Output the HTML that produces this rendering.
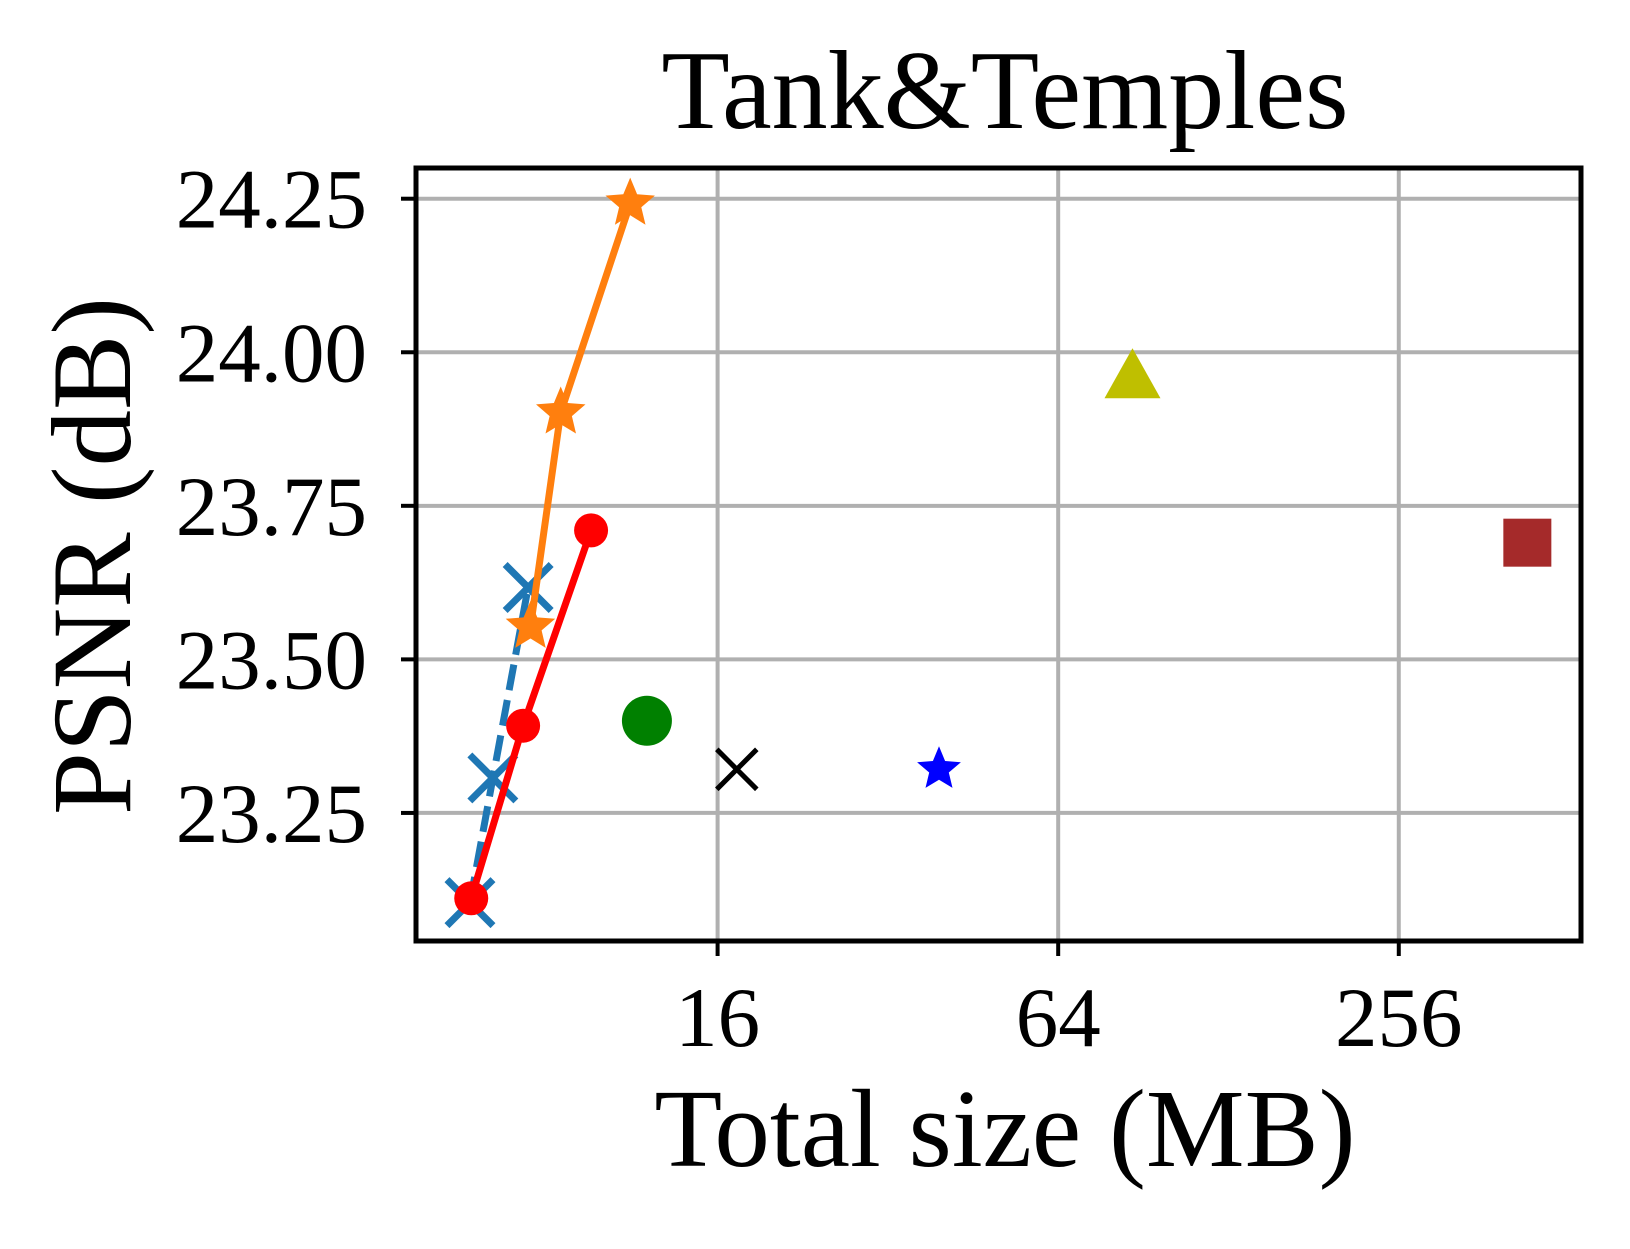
<!DOCTYPE html>
<html><head><meta charset="utf-8"><style>
html,body{margin:0;padding:0;background:#fff}
svg text{font-family:"Liberation Serif",serif;fill:#000}
</style></head><body>
<svg id="chart" width="1630" height="1244" viewBox="0 0 1630 1244">
<rect width="1630" height="1244" fill="#fff"/>
<g id="grid"></g>
<g id="marks"></g>
<rect x="416" y="168" width="1165" height="773" fill="none" stroke="#000" stroke-width="5"/>
<g id="axes"></g>
<text x="1005" y="128" font-size="112" text-anchor="middle">Tank&amp;Temples</text>
<text x="1005" y="1166" font-size="111" text-anchor="middle">Total size (MB)</text>
<text transform="translate(130,556) rotate(-90)" font-size="113" text-anchor="middle">PSNR (dB)</text>
</svg>
<script>
const xTicks=[16,64,256];
const xTickLabels=["16","64","256"];
const yTicks=[23.25,23.5,23.75,24.0,24.25];
const yTickLabels=["23.25","23.50","23.75","24.00","24.25"];
const blueX=[5.84,6.41,7.40];
const blueY=[23.104,23.307,23.617];
const orangeX=[7.47,8.45,11.21];
const orangeY=[23.553,23.902,24.242];
const redX=[5.87,7.25,9.56];
const redY=[23.111,23.392,23.710];
const singleNames=["green-circle","black-x","blue-star","yellow-triangle","brown-square"];
const singleX=[12.0,17.3,39.4,86.6,432];
const singleY=[23.400,23.321,23.321,23.961,23.690];

const L=416,R=1581,T=168,B=941;
const lx0=2.229,lx1=9.07,y0=23.0415,y1=24.3;
function sx(v){return L+(Math.log2(v)-lx0)/(lx1-lx0)*(R-L);}
function sy(v){return B-(v-y0)/(y1-y0)*(B-T);}
const NS="http://www.w3.org/2000/svg";
function mk(tag,attrs,parent){const e=document.createElementNS(NS,tag);for(const k in attrs)e.setAttribute(k,attrs[k]);document.getElementById(parent).appendChild(e);return e;}

xTicks.forEach((t,i)=>{
  const x=sx(t);
  const g=mk('line',{x1:x,x2:x,y1:T,y2:B,stroke:'#b0b0b0','stroke-width':4},'grid');
  
  
  const tk=mk('line',{x1:x,x2:x,y1:B,y2:B+15,stroke:'#000','stroke-width':4},'axes');
  
  
  const tx=mk('text',{x:x,y:1046,'font-size':85,'text-anchor':'middle'},'axes');
  tx.textContent=xTickLabels[i];
  
  
});
yTicks.forEach((t,i)=>{
  const y=sy(t);
  const g=mk('line',{x1:L,x2:R,y1:y,y2:y,stroke:'#b0b0b0','stroke-width':4},'grid');
  
  
  const tk=mk('line',{x1:L-15,x2:L,y1:y,y2:y,stroke:'#000','stroke-width':4},'axes');
  
  
  const tx=mk('text',{x:367,y:y+29,'font-size':85,'text-anchor':'end'},'axes');
  tx.textContent=yTickLabels[i];
  
  
});

function star(cx,cy,r,color,name){
  let p=[];for(let k=0;k<10;k++){const a=-Math.PI/2+k*Math.PI/5;const rr=k%2?r*0.45:r;p.push((cx+rr*Math.cos(a)).toFixed(1)+','+(cy+rr*Math.sin(a)).toFixed(1));}
  const e=mk('polygon',{points:p.join(' '),fill:color},'marks');
  
  
}
function xmark(cx,cy,r,color,w,name){
  const e=mk('path',{d:`M${cx-r},${cy-r}L${cx+r},${cy+r}M${cx-r},${cy+r}L${cx+r},${cy-r}`,stroke:color,'stroke-width':w,fill:'none'},'marks');
  
  
}
function series(xs,ys,color,dash,name){
  const pts=xs.map((v,i)=>sx(v).toFixed(1)+','+sy(ys[i]).toFixed(1)).join(' ');
  const a={points:pts,fill:'none',stroke:color,'stroke-width':7};
  if(dash)a['stroke-dasharray']=dash;
  const e=mk('polyline',a,'marks');
  
  
}
series(blueX,blueY,'#1f77b4','26,10','blue-dashed-line');
blueX.forEach((v,i)=>xmark(sx(v),sy(blueY[i]),23,'#1f77b4',7,'blue-x-point'));
series(orangeX,orangeY,'#ff7f0e',null,'orange-line');
orangeX.forEach((v,i)=>star(sx(v),sy(orangeY[i]),26,'#ff7f0e','orange-star-point'));
series(redX,redY,'red',null,'red-line');
redX.forEach((v,i)=>{
  const e=mk('circle',{cx:sx(v),cy:sy(redY[i]),r:17,fill:'red'},'marks');
  
  
});
singleX.forEach((v,i)=>{
  const x=sx(v),y=sy(singleY[i]),n=singleNames[i];
  if(n==='green-circle'){const e=mk('circle',{cx:x,cy:y,r:25,fill:'green'},'marks');}
  else if(n==='black-x'){xmark(x,y,20,'#000',5,n);}
  else if(n==='blue-star'){star(x,y,23,'blue',n);}
  else if(n==='yellow-triangle'){const e=mk('polygon',{points:`${x},${y-28} ${x+28},${y+22} ${x-28},${y+22}`,fill:'#bfbf00'},'marks');}
  else {const e=mk('rect',{x:x-24,y:y-24,width:48,height:48,fill:'#a52a2a'},'marks');}
});
</script>
</body></html>
